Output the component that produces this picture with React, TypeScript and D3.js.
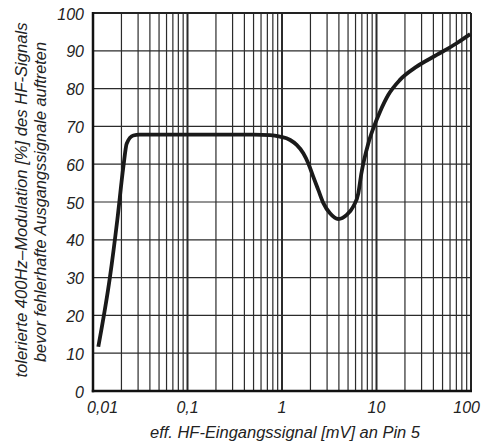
import { useEffect, useRef } from 'react';
import * as d3 from 'd3';

const curveX = [0.01138, 0.01513, 0.01807, 0.02095, 0.02275, 0.0267, 0.031, 0.1, 0.5, 0.75, 0.95, 1.22, 1.43, 1.68, 1.9, 2.14, 2.42, 2.74, 3.22, 3.94, 4.84, 5.68, 6.42, 6.9, 8.19, 9.25, 10.9, 13.3, 17.7, 26.6, 43.4, 70.6, 98];
const curveY = [11.7, 30.2, 45.2, 59.3, 65.5, 67.6, 67.8, 67.8, 67.8, 67.7, 67.3, 66.4, 65.1, 62.9, 60.2, 56.7, 53.2, 49.7, 47.0, 45.5, 46.6, 48.8, 52.3, 57.4, 65.5, 69.5, 73.9, 78.3, 82.3, 85.8, 88.9, 92.0, 94.4];

const xTicks = [0.01, 0.1, 1, 10, 100];
const xTickLabels = ['0,01', '0,1', '1', '10', '100'];
const yTicks = [0, 10, 20, 30, 40, 50, 60, 70, 80, 90, 100];

const yTitle1 = 'tolerierte 400Hz–Modulation [%] des HF-Signals';
const yTitle2 = 'bevor fehlerhafte Ausgangssignale auftreten';
const xTitle = 'eff. HF-Eingangssignal [mV] an Pin 5';

const App = () => {
  const svgRef = useRef<SVGSVGElement>(null);

  useEffect(() => {
    const W = 482, H = 448;
    const margin = { top: 13, right: 11, bottom: 57, left: 93 };
    const width = W - margin.left - margin.right;
    const height = H - margin.top - margin.bottom;
    const font = '"Liberation Sans", Arial, sans-serif';

    const root = d3.select(svgRef.current);
    root.selectAll('*').remove();
    root.attr('width', W).attr('height', H);

    const svg = root.append('g')
      .attr('transform', `translate(${margin.left},${margin.top})`);

    const x = d3.scaleLog().domain([0.01, 100]).range([0, width]);
    const y = d3.scaleLinear().domain([0, 100]).range([height, 0]);

    // vertical grid (log minors + decades)
    const minor = x.ticks().filter(v => v > 0.01 && v < 100);
    svg.append('g')
      .selectAll('line')
      .data(minor)
      .enter()
      .append('line')
      .attr('x1', d => x(d)).attr('x2', d => x(d))
      .attr('y1', 0).attr('y2', height)
      .attr('stroke', '#2b2b2b')
      .attr('stroke-width', d => xTicks.includes(d) ? 2 : 1.2);

    // horizontal grid
    svg.append('g')
      .selectAll('line')
      .data(yTicks.filter(v => v > 0 && v < 100))
      .enter()
      .append('line')
      .attr('x1', 0).attr('x2', width)
      .attr('y1', d => y(d)).attr('y2', d => y(d))
      .attr('stroke', '#2b2b2b')
      .attr('stroke-width', 1.2);

    // frame
    svg.append('line').attr('x1', 0).attr('x2', width).attr('y1', 0).attr('y2', 0)
      .attr('stroke', '#222').attr('stroke-width', 2);
    svg.append('line').attr('x1', width).attr('x2', width).attr('y1', 0).attr('y2', height)
      .attr('stroke', '#222').attr('stroke-width', 2);
    svg.append('line').attr('x1', 0).attr('x2', 0).attr('y1', -1).attr('y2', height + 1.2)
      .attr('stroke', '#111').attr('stroke-width', 2.5);
    svg.append('line').attr('x1', -1.2).attr('x2', width + 1).attr('y1', height).attr('y2', height)
      .attr('stroke', '#111').attr('stroke-width', 2.5);

    // curve
    const pts = curveX.map((v, i) => [v, curveY[i]] as [number, number]);
    const line = d3.line<[number, number]>()
      .x(d => x(d[0]))
      .y(d => y(d[1]))
      .curve(d3.curveMonotoneX);
    svg.append('path')
      .datum(pts)
      .attr('d', line)
      .attr('fill', 'none')
      .attr('stroke', '#1a1a1a')
      .attr('stroke-width', 3.8)
      .attr('stroke-linecap', 'butt')
      .attr('stroke-linejoin', 'round');

    // y tick labels
    svg.append('g')
      .selectAll('text')
      .data(yTicks)
      .enter()
      .append('text')
      .attr('x', -9)
      .attr('y', d => y(d) + 6.5)
      .attr('text-anchor', 'end')
      .style('font-family', font)
      .style('font-style', 'italic')
      .style('font-size', '16px')
      .attr('fill', '#222')
      .text(d => d);

    // x tick labels
    svg.append('g')
      .selectAll('text')
      .data(xTicks)
      .enter()
      .append('text')
      .attr('x', (d, i) => x(d) + (i === 0 ? -6 : i === xTicks.length - 1 ? 9 : 0))
      .attr('y', height + 22)
      .attr('text-anchor', (d, i) => i === 0 ? 'start' : i === xTicks.length - 1 ? 'end' : 'middle')
      .style('font-family', font)
      .style('font-style', 'italic')
      .style('font-size', '16px')
      .attr('fill', '#222')
      .text((d, i) => xTickLabels[i]);

    // axis titles
    root.append('text')
      .attr('x', 285).attr('y', 438)
      .attr('text-anchor', 'middle')
      .attr('textLength', 270)
      .attr('lengthAdjust', 'spacingAndGlyphs')
      .style('font-family', font)
      .style('font-style', 'italic')
      .style('font-size', '16px')
      .attr('fill', '#222')
      .text(xTitle);

    root.append('text')
      .attr('transform', 'translate(27,200) rotate(-90)')
      .attr('text-anchor', 'middle')
      .attr('textLength', 355)
      .attr('lengthAdjust', 'spacingAndGlyphs')
      .style('font-family', font)
      .style('font-style', 'italic')
      .style('font-size', '16.5px')
      .attr('fill', '#222')
      .text(yTitle1);

    root.append('text')
      .attr('transform', 'translate(46,202) rotate(-90)')
      .attr('text-anchor', 'middle')
      .attr('textLength', 320)
      .attr('lengthAdjust', 'spacingAndGlyphs')
      .style('font-family', font)
      .style('font-style', 'italic')
      .style('font-size', '16.5px')
      .attr('fill', '#222')
      .text(yTitle2);
  }, []);

  return (
    <div style={{ position: 'absolute', left: 0, top: 0 }}>
      <svg ref={svgRef} style={{ display: 'block' }}></svg>
    </div>
  );
};

export default App;
